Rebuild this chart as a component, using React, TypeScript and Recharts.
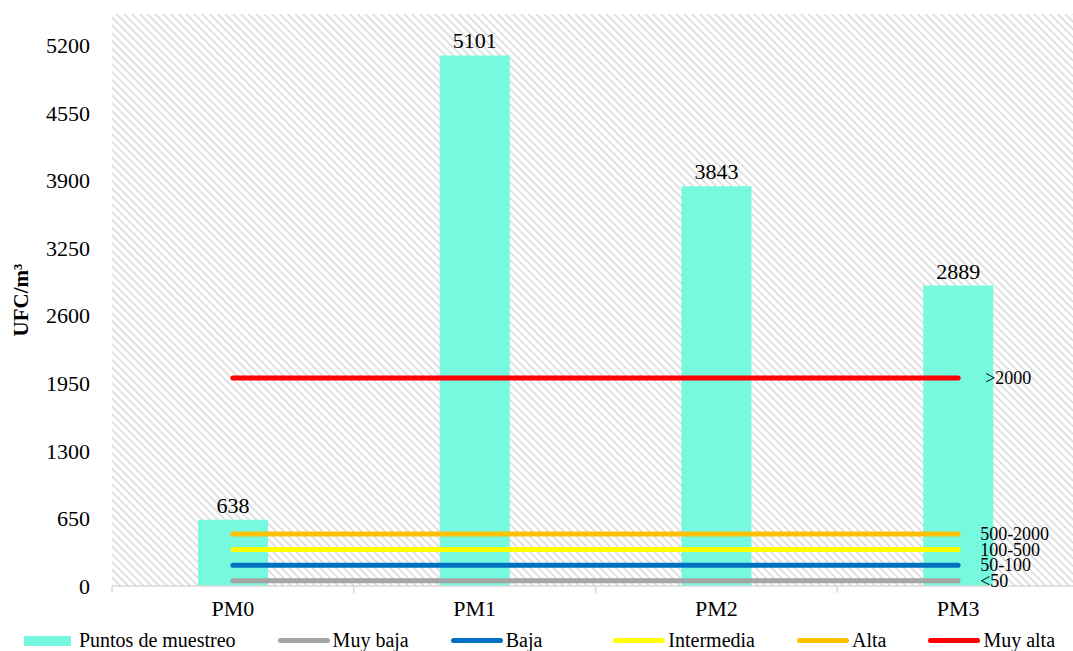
import { ComposedChart, Bar, Line, XAxis, YAxis, CartesianGrid, LabelList, Legend } from 'recharts'

const categories = ['PM0', 'PM1', 'PM2', 'PM3']
const puntosMuestreo = [638, 5101, 3843, 2889]
const muyBaja = [50, 50, 50, 50]
const baja = [200, 200, 200, 200]
const intermedia = [350, 350, 350, 350]
const alta = [500, 500, 500, 500]
const muyAlta = [2000, 2000, 2000, 2000]
const yTicks = [0, 650, 1300, 1950, 2600, 3250, 3900, 4550, 5200]

const seriesNames = ['Puntos de muestreo', 'Muy baja', 'Baja', 'Intermedia', 'Alta', 'Muy alta']
const seriesColors = ['#76f9df', '#a5a5a5', '#0070c0', '#ffff00', '#ffc000', '#ff0000']

const FONT = '"Liberation Serif", "Times New Roman", serif'
const AXIS_GREY = '#d9d9d9'

const rows = categories.map((name, i) => ({
  name,
  puntos: puntosMuestreo[i],
  muyBaja: muyBaja[i],
  baja: baja[i],
  intermedia: intermedia[i],
  alta: alta[i],
  muyAlta: muyAlta[i],
}))

// rango escrito a la derecha del último punto de cada línea
const endLabel = (text: string, dx = 22) => (props: any) => {
  if (props.index !== categories.length - 1) return null
  return (
    <text x={props.x + dx} y={props.y} dy={6} fontSize={18} fill="#000" fontFamily={FONT}>
      {text}
    </text>
  )
}

// etiqueta de categoría + marcas del eje entre categorías
const TICK_SIZE = 6
const TICK_MARGIN = 8
const categoryTick = (props: any) => {
  const { x, y, width, index, payload } = props
  const band = width / categories.length
  const axisY = y - TICK_SIZE - TICK_MARGIN
  const left = x - band / 2
  return (
    <g>
      <line x1={left} x2={left} y1={axisY} y2={axisY + 7} stroke={AXIS_GREY} strokeWidth={1.5} />
      {index === categories.length - 1 && (
        <line x1={left + band} x2={left + band} y1={axisY} y2={axisY + 7} stroke={AXIS_GREY} strokeWidth={1.5} />
      )}
      <text x={x} y={y} dy="0.71em" textAnchor="middle" fontSize={22} fill="#000" fontFamily={FONT}>
        {payload.value}
      </text>
    </g>
  )
}

const renderLegend = () => (
  <div
    style={{
      display: 'flex',
      justifyContent: 'center',
      alignItems: 'center',
      gap: 42,
      fontSize: 20,
      fontFamily: FONT,
      color: '#000',
      height: 27,
      paddingTop: 6,
      boxSizing: 'border-box',
    }}
  >
    {seriesNames.map((name, i) => (
      <div key={name} style={{ display: 'flex', alignItems: 'center', marginRight: name === 'Baja' ? 29 : 0 }}>
        {i === 0 ? (
          <span style={{ width: 47, height: 10, background: seriesColors[i], marginRight: 8 }} />
        ) : (
          <span style={{ width: 52, height: 5, borderRadius: 3, background: seriesColors[i], marginRight: 3 }} />
        )}
        <span>{name}</span>
      </div>
    ))}
  </div>
)

const yLabel = () => (
  <text
    x={21}
    y={300}
    transform="rotate(-90 21 300)"
    textAnchor="middle"
    dominantBaseline="central"
    fontSize={21}
    fontWeight="bold"
    fontFamily={FONT}
    fill="#000"
  >
    UFC/m³
  </text>
)

export default function App() {
  return (
    <div style={{ position: 'absolute', left: 0, top: 0, width: 1073, height: 651, overflow: 'hidden', background: '#fff' }}>
      <ComposedChart width={1073} height={651} data={rows} margin={{ top: 14, right: -6, bottom: 0, left: 0 }}>
        <defs>
          <pattern id="hatch" width="5.5" height="5.5" patternUnits="userSpaceOnUse" patternTransform="rotate(-45)">
            <rect x="0" y="0" width="1.7" height="5.5" fill="#dcdcdc" />
          </pattern>
        </defs>
        <CartesianGrid horizontal={false} vertical={false} fill="url(#hatch)" />
        <XAxis
          dataKey="name"
          height={38}
          axisLine={{ stroke: AXIS_GREY, strokeWidth: 1.5 }}
          tickLine={false}
          tickSize={TICK_SIZE}
          tickMargin={TICK_MARGIN}
          tick={categoryTick}
        />
        <YAxis
          width={112}
          domain={[0, 5500]}
          ticks={yTicks}
          axisLine={false}
          tickLine={false}
          tickMargin={16}
          tick={{ fontSize: 22, fill: '#000', fontFamily: FONT }}
          label={yLabel}
        />
        <Legend verticalAlign="bottom" content={renderLegend} />
        <Bar dataKey="puntos" name={seriesNames[0]} fill={seriesColors[0]} barSize={70} isAnimationActive={false}>
          <LabelList dataKey="puntos" position="top" offset={7} fontSize={22} fill="#000" fontFamily={FONT} />
        </Bar>
        <Line dataKey="muyBaja" name={seriesNames[1]} stroke={seriesColors[1]} strokeWidth={5} strokeLinecap="round" dot={false} isAnimationActive={false}>
          <LabelList content={endLabel('<50')} />
        </Line>
        <Line dataKey="baja" name={seriesNames[2]} stroke={seriesColors[2]} strokeWidth={5} strokeLinecap="round" dot={false} isAnimationActive={false}>
          <LabelList content={endLabel('50-100')} />
        </Line>
        <Line dataKey="intermedia" name={seriesNames[3]} stroke={seriesColors[3]} strokeWidth={5} strokeLinecap="round" dot={false} isAnimationActive={false}>
          <LabelList content={endLabel('100-500')} />
        </Line>
        <Line dataKey="alta" name={seriesNames[4]} stroke={seriesColors[4]} strokeWidth={5} strokeLinecap="round" dot={false} isAnimationActive={false}>
          <LabelList content={endLabel('500-2000')} />
        </Line>
        <Line dataKey="muyAlta" name={seriesNames[5]} stroke={seriesColors[5]} strokeWidth={5} strokeLinecap="round" dot={false} isAnimationActive={false}>
          <LabelList content={endLabel('>2000', 27)} />
        </Line>
      </ComposedChart>
    </div>
  )
}
